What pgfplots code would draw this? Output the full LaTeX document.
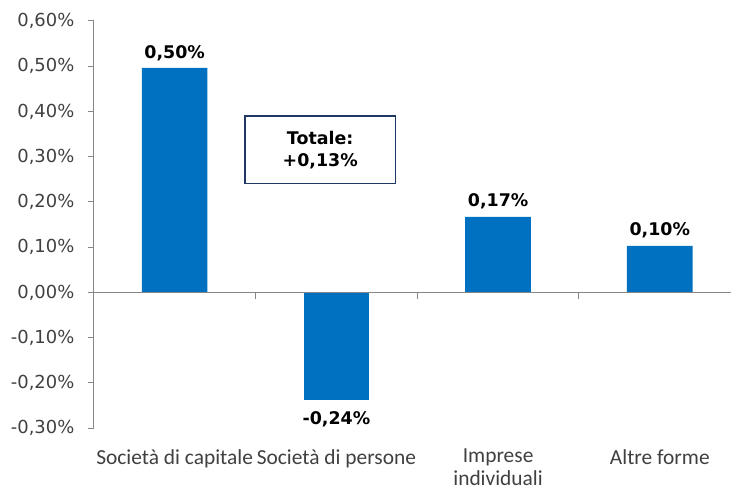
\documentclass[border=0pt]{standalone}
\usepackage{fontspec}
\setmainfont{DejaVu Sans}
\newfontfamily\calfont{Carlito}
\usepackage{pgfplots}
\pgfplotsset{compat=1.18}
\definecolor{barblue}{HTML}{0070C0}
\definecolor{axgray}{HTML}{868686}
\definecolor{txtgray}{HTML}{404040}
\definecolor{boxnavy}{HTML}{1F3864}

\begin{document}
\pgfkeys{/pgf/number format/.cd, use comma, fixed, zerofill, precision=2, assume math mode=true}
\begin{tikzpicture}
\useasboundingbox (-91bp,-61bp) rectangle (640bp,430bp);
\begin{axis}[
  width=640bp, height=409bp, scale only axis,
  xmin=-0.5, xmax=3.44, ymin=-0.3, ymax=0.6,
  ybar, bar width=66bp, bar shift=0pt,
  axis y line*=left, axis x line*=bottom,
  x axis line style={draw=none},
  y axis line style={axgray, line width=1bp},
  ytick={-0.3,-0.2,-0.1,0,0.1,0.2,0.3,0.4,0.5,0.6},
  yticklabel={\pgfmathprintnumber{\tick}\%},
  ytick style={axgray, line width=1bp},
  major tick length=6bp, tick align=outside,
  yticklabel style={font=\fontsize{18bp}{20bp}\selectfont, text=txtgray, xshift=-10bp},
  xtick={0,1,2,3},
  xticklabels={Società di capitale, Società di persone, {Imprese\\individuali}, Altre forme},
  xtick style={draw=none},
  xticklabel style={font=\calfont\fontsize{21.5bp}{23bp}\selectfont, text=txtgray, align=center,
    inner sep=0pt, yshift=-15bp},
  nodes near coords={\pgfmathprintnumber{\pgfplotspointmeta}\%},
  every node near coord/.append style={font=\bfseries\fontsize{17.5bp}{19bp}\selectfont, text=black},
  clip=false,
]
% positive bars
\addplot[fill=barblue, draw=none, nodes near coords align=vertical,
  every node near coord/.append style={yshift=4bp}]
  coordinates {(0,0.496) (2,0.167) (3,0.103)};
% negative bar
\addplot[fill=barblue, draw=none, nodes near coords align=vertical,
  every node near coord/.append style={yshift=-8bp}]
  coordinates {(1,-0.238)};
\draw[axgray, line width=1bp] (axis cs:-0.5,0) -- (axis cs:3.44,0);
\pgfplotsinvokeforeach{0.5,1.5,2.5}{\draw[axgray, line width=1bp] (axis cs:#1,0) -- ([yshift=-7bp]axis cs:#1,0);}
\node[draw=boxnavy, line width=1.5bp, fill=white, minimum width=151bp, minimum height=68bp,
  align=center, inner sep=0pt, font=\bfseries\fontsize{17.5bp}{22bp}\selectfont]
  at (axis cs:0.90,0.315) {Totale:\\+0,13\%};
\end{axis}
\end{tikzpicture}
\end{document}
